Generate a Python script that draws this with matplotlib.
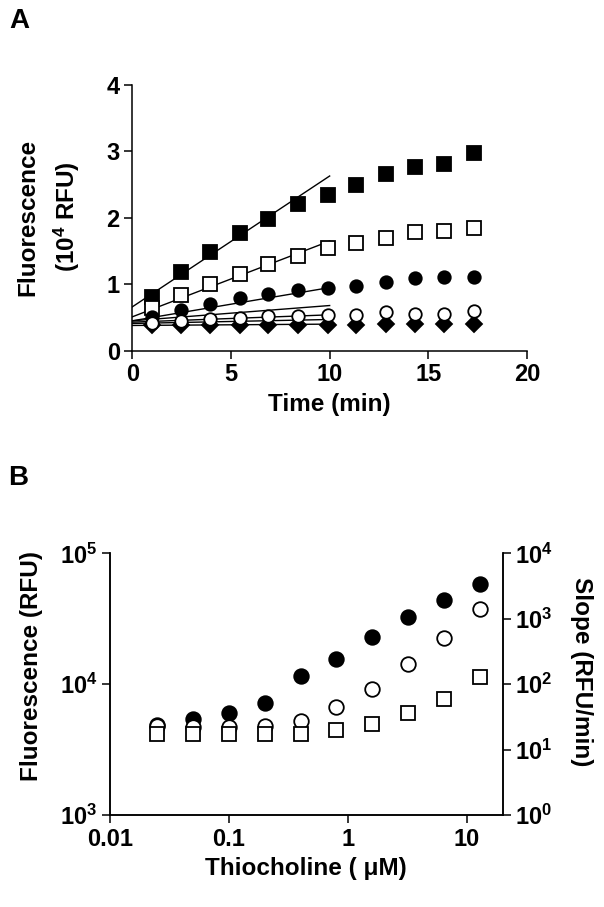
import matplotlib
matplotlib.use("Agg")
import matplotlib.pyplot as plt
from matplotlib.ticker import FuncFormatter, FixedLocator, NullLocator
import numpy as np

plt.rcParams['font.family'] = ['Liberation Sans', 'DejaVu Sans']
plt.rcParams['font.weight'] = 'bold'
plt.rcParams['mathtext.fontset'] = 'custom'
plt.rcParams['mathtext.rm'] = 'Liberation Sans:bold'
plt.rcParams['mathtext.bf'] = 'Liberation Sans:bold'
plt.rcParams['mathtext.it'] = 'Liberation Sans:bold'

# ---------------- Panel A data ----------------
time_min = [1.0, 2.45, 3.95, 5.45, 6.9, 8.4, 9.9, 11.35, 12.85, 14.35, 15.8, 17.3]
filled_square = [0.81, 1.18, 1.48, 1.77, 1.98, 2.21, 2.34, 2.49, 2.66, 2.76, 2.81, 2.98]
open_square = [0.64, 0.84, 1.00, 1.16, 1.31, 1.43, 1.54, 1.62, 1.70, 1.78, 1.80, 1.85]
filled_circle = [0.51, 0.61, 0.70, 0.79, 0.85, 0.91, 0.95, 0.98, 1.04, 1.09, 1.11, 1.11]
open_circle = [0.41, 0.45, 0.47, 0.49, 0.52, 0.52, 0.54, 0.54, 0.59, 0.56, 0.56, 0.60]
filled_diamond = [0.38, 0.38, 0.38, 0.39, 0.39, 0.39, 0.39, 0.39, 0.40, 0.40, 0.40, 0.40]

# linear fits over the first 10 min (intercept, slope per min)
fit_intercepts = [0.66, 0.51, 0.45, 0.45, 0.43, 0.41, 0.38]
fit_slopes = [0.197, 0.114, 0.050, 0.023, 0.011, 0.006, 0.002]
fit_range = [0, 10]

# ---------------- Panel B data ----------------
thiocholine_uM = [0.025, 0.05, 0.1, 0.2, 0.4, 0.8, 1.6, 3.2, 6.4, 12.8]
fluor_filled = [4850, 5460, 6030, 7190, 11500, 15500, 23000, 32400, 44000, 58200]
fluor_open = [4750, 4700, 4700, 4750, 5200, 6700, 9160, 14200, 22700, 37500]
slope_rfu_min = [17.1, 17.5, 17.5, 17.5, 17.1, 20.2, 24.9, 36.3, 60.3, 129]

W, H = 604, 907
fig = plt.figure(figsize=(W / 100, H / 100), dpi=100)

def frac_box(left, top, right, bottom):
    return [left / W, 1 - bottom / H, (right - left) / W, (bottom - top) / H]

TICK_FS = 17
LAB_FS = 17.5
mew = 1.3

# ---------------- Panel A ----------------
axA = fig.add_axes(frac_box(132.3, 85, 527, 350.7))
for b, m in zip(fit_intercepts, fit_slopes):
    xs = np.array(fit_range, dtype=float)
    axA.plot(xs, b + m * xs, color='black', lw=1.0, zorder=1)
axA.plot(time_min, filled_square, 's', ms=9.5, mfc='black', mec='black', mew=mew, zorder=3)
axA.plot(time_min, open_square, 's', ms=9.5, mfc='white', mec='black', mew=mew, zorder=3)
axA.plot(time_min, filled_circle, 'o', ms=9.0, mfc='black', mec='black', mew=mew, zorder=3)
axA.plot(time_min, filled_diamond, 'D', ms=8.5, mfc='black', mec='black', mew=mew, zorder=3)
axA.plot(time_min, open_circle, 'o', ms=9.0, mfc='white', mec='black', mew=mew, zorder=4)
axA.set_xlim(0, 20)
axA.set_ylim(0, 4)
axA.set_xticks([0, 5, 10, 15, 20])
axA.set_yticks([0, 1, 2, 3, 4])
for s in ['top', 'right']:
    axA.spines[s].set_visible(False)
for s in ['left', 'bottom']:
    axA.spines[s].set_linewidth(1.1)
axA.tick_params(direction='out', length=6, width=1.1, labelsize=TICK_FS, pad=3)
for lbl in axA.get_xticklabels() + axA.get_yticklabels():
    lbl.set_fontweight('bold')
axA.set_xlabel('Time (min)', fontsize=LAB_FS, fontweight='bold', labelpad=5)
fig.text(28 / W, 1 - 217 / H, 'Fluorescence', rotation=90, ha='center', va='center',
         fontsize=LAB_FS, fontweight='bold')
fig.text(67 / W, 1 - 217 / H, r'(10$^{4}$ RFU)', rotation=90, ha='center', va='center',
         fontsize=LAB_FS, fontweight='bold')
fig.text(19.5 / W, 1 - 20.5 / H, 'A', ha='center', va='center', fontsize=20, fontweight='bold')

# ---------------- Panel B ----------------
axB = fig.add_axes(frac_box(110, 553.3, 502.7, 815))
axB.set_xscale('log')
axB.set_yscale('log')
msB = 10.5
axB.plot(thiocholine_uM, fluor_filled, 'o', ms=msB, mfc='black', mec='black', mew=mew, zorder=3)
axB.plot(thiocholine_uM, fluor_open, 'o', ms=msB, mfc='white', mec='black', mew=mew, zorder=4)
axB.set_xlim(0.01, 20)
axB.set_ylim(1e3, 1e5)
axB2 = axB.twinx()
axB2.set_yscale('log')
axB2.plot(thiocholine_uM, slope_rfu_min, 's', ms=msB, mfc='white', mec='black', mew=mew, zorder=5)
axB2.set_ylim(1, 1e4)
axB2.set_xlim(0.01, 20)

def pow_fmt(v, pos):
    e = int(round(np.log10(v)))
    return r'$\mathbf{10^{%d}}$' % e

def dec_fmt(v, pos):
    return {0.01: '0.01', 0.1: '0.1', 1: '1', 10: '10'}.get(round(v, 3), '')

axB.xaxis.set_major_locator(FixedLocator([0.01, 0.1, 1, 10]))
axB.xaxis.set_major_formatter(FuncFormatter(dec_fmt))
axB.xaxis.set_minor_locator(NullLocator())
axB.yaxis.set_major_locator(FixedLocator([1e3, 1e4, 1e5]))
axB.yaxis.set_major_formatter(FuncFormatter(pow_fmt))
axB.yaxis.set_minor_locator(NullLocator())
axB2.yaxis.set_major_locator(FixedLocator([1, 10, 100, 1e3, 1e4]))
axB2.yaxis.set_major_formatter(FuncFormatter(pow_fmt))
axB2.yaxis.set_minor_locator(NullLocator())

for a in (axB, axB2):
    a.spines['top'].set_visible(False)
    for s in ['left', 'bottom', 'right']:
        a.spines[s].set_linewidth(1.1)
    a.tick_params(direction='out', length=6, width=1.1, labelsize=TICK_FS, pad=3)
for lbl in axB.get_xticklabels() + axB.get_yticklabels() + axB2.get_yticklabels():
    lbl.set_fontweight('bold')

axB.set_xlabel(r'Thiocholine ( μM)', fontsize=LAB_FS, fontweight='bold', labelpad=5)
fig.text(32 / W, 1 - 666 / H, 'Fluorescence (RFU)', rotation=90, ha='center', va='center',
         fontsize=LAB_FS, fontweight='bold')
fig.text(582 / W, 1 - 672 / H, 'Slope (RFU/min)', rotation=270, ha='center', va='center',
         fontsize=LAB_FS, fontweight='bold')
fig.text(18 / W, 1 - 478 / H, 'B', ha='center', va='center', fontsize=20, fontweight='bold')

fig.savefig('out.png', dpi=100)
